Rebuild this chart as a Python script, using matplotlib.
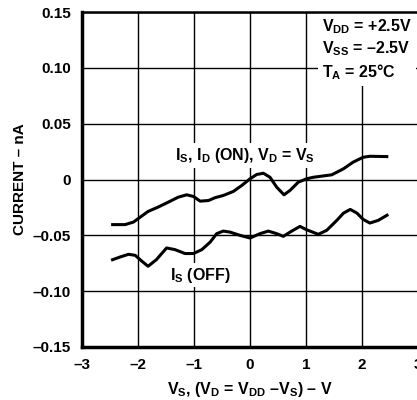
import matplotlib
matplotlib.use("Agg")
import matplotlib.pyplot as plt

plt.rcParams['font.family'] = ['Liberation Sans', 'DejaVu Sans']
plt.rcParams['font.weight'] = 'bold'
plt.rcParams['mathtext.fontset'] = 'custom'
plt.rcParams['mathtext.rm'] = 'Liberation Sans:bold'
plt.rcParams['mathtext.bf'] = 'Liberation Sans:bold'
plt.rcParams['mathtext.it'] = 'Liberation Sans:bold'
plt.rcParams['mathtext.default'] = 'bf'

# data: I_S, I_D (ON)
on_x = [-2.48, -2.23, -2.08, -1.96, -1.82, -1.64, -1.46, -1.28, -1.13, -1.01, -0.89,
        -0.74, -0.625, -0.477, -0.298, -0.148, 0.0, 0.12, 0.24, 0.357, 0.477, 0.607,
        0.714, 0.862, 1.01, 1.13, 1.46, 1.67, 1.84, 2.02, 2.14, 2.47]
on_y = [-0.0404, -0.0404, -0.0381, -0.0337, -0.0286, -0.0247, -0.0203, -0.0158, -0.0137,
        -0.0152, -0.0194, -0.0188, -0.0163, -0.0143, -0.0107, -0.0054, 0.0006, 0.0045,
        0.0056, 0.0020, -0.0069, -0.0137, -0.0098, -0.0024, 0.0006, 0.0020, 0.0042,
        0.0096, 0.0155, 0.0199, 0.0208, 0.0205]
# data: I_S (OFF)
off_x = [-2.48, -2.32, -2.17, -2.05, -1.93, -1.82, -1.67, -1.49, -1.34, -1.16, -1.01,
         -0.86, -0.71, -0.595, -0.477, -0.357, -0.179, 0.0, 0.179, 0.327, 0.477, 0.595,
         0.745, 0.893, 1.01, 1.22, 1.37, 1.55, 1.67, 1.79, 1.91, 2.02, 2.14, 2.29, 2.47]
off_y = [-0.0723, -0.0694, -0.0670, -0.0679, -0.0732, -0.0777, -0.0717, -0.0613, -0.0628,
         -0.0663, -0.0663, -0.0628, -0.0560, -0.0485, -0.0462, -0.0471, -0.0500, -0.0524,
         -0.0485, -0.0462, -0.0485, -0.0509, -0.0462, -0.0420, -0.0450, -0.0491, -0.0455,
         -0.0366, -0.0301, -0.0268, -0.0301, -0.0357, -0.0390, -0.0366, -0.0313]

xticks = [-3, -2, -1, 0, 1, 2, 3]
xticklabels = ['\u20133', '\u20132', '\u20131', '0', '1', '2', '3']
yticks = [-0.15, -0.10, -0.05, 0, 0.05, 0.10, 0.15]
yticklabels = ['\u20130.15', '\u20130.10', '\u20130.05', '0', '0.05', '0.10', '0.15']

fig = plt.figure(figsize=(4.17, 4.0), dpi=100)
ax = fig.add_axes([82/417, 53/400, 336/417, 335/400])
ax.set_xlim(-3, 3)
ax.set_ylim(-0.15, 0.15)
ax.set_xticks(xticks)
ax.set_xticklabels(xticklabels)
ax.set_yticks(yticks)
ax.set_yticklabels(yticklabels)
ax.tick_params(length=0, labelsize=11, pad=8)
ax.grid(True, color='black', linewidth=1.0)
ax.set_axisbelow(True)
for s in ['left', 'bottom']:
    ax.spines[s].set_linewidth(2.5)
for s in ['top', 'right']:
    ax.spines[s].set_linewidth(1.8)

ax.plot(on_x, on_y, color='black', linewidth=2.2, zorder=3,
        solid_joinstyle='round', solid_capstyle='butt')
ax.plot(off_x, off_y, color='black', linewidth=2.2, zorder=3,
        solid_joinstyle='round', solid_capstyle='butt')

bb = dict(facecolor='white', edgecolor='none', pad=2)
ax.text(-0.09, 0.0214, 'I$_S$, I$_D$ (ON), V$_D$ = V$_S$', ha='center', va='center',
        fontsize=11.5, fontweight='bold', bbox=bb, zorder=2)
ax.text(-0.89, -0.0857, 'I$_S$ (OFF)', ha='center', va='center',
        fontsize=11.5, fontweight='bold', bbox=bb, zorder=2)
ax.text(1.29, 0.145, 'V$_{DD}$ = +2.5V\nV$_{SS}$ = \u20132.5V\nT$_A$ = 25\u00b0C',
        ha='left', va='top', fontsize=11.5, fontweight='bold', linespacing=1.25,
        bbox=dict(facecolor='white', edgecolor='none', pad=3), zorder=2)

ax.set_ylabel('CURRENT \u2013 nA', fontsize=11, fontweight='bold')
ax.yaxis.set_label_coords(-0.165, 0.5)
ax.set_xlabel('V$_S$, (V$_D$ = V$_{DD}$ \u2013V$_S$) \u2013 V', fontsize=11.5,
              fontweight='bold')
ax.xaxis.set_label_coords(0.5, -0.098)

fig.savefig('out.png', dpi=100)
